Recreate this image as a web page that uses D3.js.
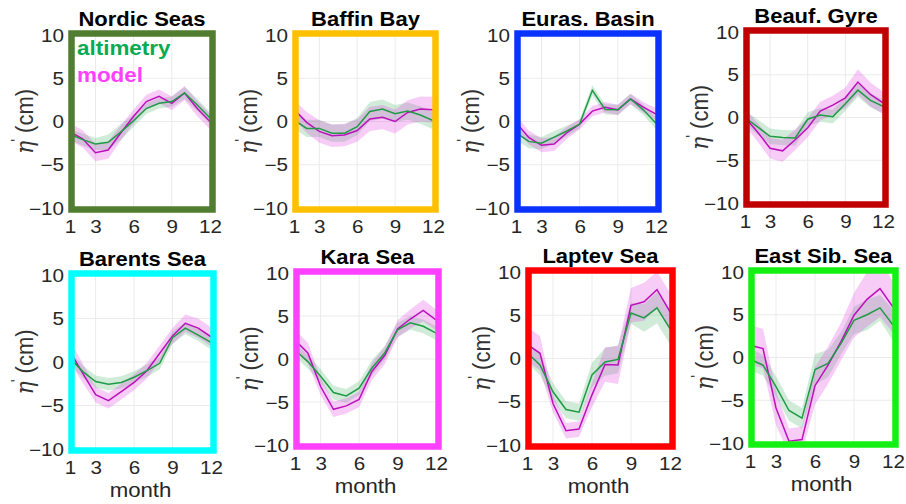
<!DOCTYPE html>
<html>
<head>
<meta charset="utf-8">
<script src="https://cdn.jsdelivr.net/npm/d3@7"></script>
<style>
  body { margin: 0; background: #fff; }
  svg { display: block; }
</style>
</head>
<body>
<svg id="chart" width="906" height="504"></svg>
<script>
// Monthly sea-level anomaly climatology, altimetry vs model, per Arctic region
const regions = ["Nordic Seas", "Baffin Bay", "Euras. Basin", "Beauf. Gyre",
                 "Barents Sea", "Kara Sea", "Laptev Sea", "East Sib. Sea"];
const months = [1, 2, 3, 4, 5, 6, 7, 8, 9, 10, 11, 12];
const xTicks = [1, 3, 6, 9, 12];
const yTicks = [-10, -5, 0, 5, 10];
const seriesLabels = ["altimetry", "model"];

const altimetryMean = [
  [-1.5, -2.1, -2.6, -2.4, -1.2, 0.1, 1.5, 2.1, 2.3, 3.3, 1.9, 0.4],
  [0.2, -0.8, -0.8, -1.35, -1.35, -0.6, 1.15, 1.45, 0.9, 1.2, 0.75, 0.1],
  [-1.3, -2.3, -2.5, -1.8, -1.1, -0.3, 3.6, 1.4, 1.35, 2.6, 1.35, -0.2],
  [0.0, -1.1, -2.2, -2.35, -2.4, -0.2, 0.3, 0.1, 1.6, 3.2, 2.0, 1.3],
  [0.45, -1.1, -2.25, -2.55, -2.35, -1.75, -1.0, -0.15, 2.8, 3.9, 3.1, 2.25],
  [1.05, -0.3, -2.0, -3.9, -4.3, -3.4, -1.05, 0.7, 3.4, 4.2, 3.8, 3.0],
  [0.7, -0.75, -3.85, -5.9, -6.2, -1.9, -0.4, -0.1, 5.25, 4.7, 5.85, 3.45],
  [-0.2, -0.9, -3.4, -6.2, -7.1, -1.4, -0.7, 1.65, 4.35, 5.0, 5.8, 3.8]
];
const altimetrySpread = [
  [0.6, 0.7, 0.7, 0.9, 0.9, 0.7, 0.6, 0.6, 0.6, 0.7, 0.7, 0.7],
  [1.0, 1.0, 1.0, 1.0, 1.0, 1.0, 1.1, 1.1, 1.0, 1.0, 1.0, 1.0],
  [0.8, 0.8, 0.7, 0.7, 0.6, 0.5, 0.6, 0.6, 0.6, 0.6, 0.6, 0.7],
  [0.8, 0.9, 0.9, 0.9, 0.9, 0.8, 0.8, 0.8, 0.8, 0.8, 0.8, 0.8],
  [0.7, 0.7, 0.7, 0.7, 0.7, 0.7, 0.7, 0.7, 0.7, 0.7, 0.7, 0.8],
  [0.8, 0.8, 0.8, 0.8, 0.8, 0.8, 0.9, 0.8, 0.8, 0.8, 0.8, 0.8],
  [1.2, 1.2, 1.0, 1.0, 1.0, 1.4, 1.6, 1.6, 1.2, 1.6, 1.8, 1.8],
  [1.3, 1.2, 1.2, 1.2, 1.2, 1.8, 1.6, 1.3, 1.6, 1.8, 1.5, 1.8]
];
const modelMean = [
  [-1.2, -2.0, -3.6, -3.3, -1.3, 0.6, 2.3, 2.9, 2.1, 3.3, 1.5, 0.0],
  [1.4, -0.1, -1.15, -1.65, -1.55, -1.05, 0.3, 0.5, 0.0, 1.05, 1.45, 1.35],
  [-0.1, -1.85, -2.75, -2.6, -1.3, -0.3, 1.2, 1.65, 1.35, 2.6, 1.65, 0.85],
  [0.0, -1.7, -3.6, -3.9, -2.6, -1.2, 0.75, 1.45, 2.3, 4.15, 2.7, 1.7],
  [1.2, -1.3, -3.75, -4.45, -3.4, -2.35, -1.0, 1.0, 3.0, 4.45, 3.9, 2.9],
  [2.2, 0.7, -3.2, -5.85, -5.45, -4.7, -1.45, 0.4, 3.5, 4.65, 5.65, 4.55],
  [1.65, 0.6, -5.2, -8.35, -8.15, -4.2, -0.7, -0.75, 6.15, 6.55, 7.95, 5.4],
  [1.45, 1.05, -5.9, -9.8, -9.6, -3.3, -0.9, 1.85, 4.95, 6.8, 8.05, 5.9]
];
const modelSpread = [
  [1.0, 1.0, 1.0, 1.0, 0.9, 0.8, 0.8, 0.8, 0.8, 0.8, 0.9, 0.9],
  [1.1, 1.2, 1.3, 1.3, 1.3, 1.3, 1.4, 1.4, 1.4, 1.4, 1.45, 1.5],
  [0.8, 0.8, 0.8, 0.8, 0.7, 0.6, 0.6, 0.6, 0.6, 0.6, 0.6, 0.7],
  [1.0, 1.1, 1.2, 1.3, 1.2, 1.1, 1.1, 1.1, 1.2, 1.5, 1.4, 1.3],
  [1.3, 1.1, 0.9, 0.9, 0.9, 0.9, 0.9, 0.9, 0.9, 1.0, 1.1, 1.1],
  [1.2, 1.2, 1.0, 0.9, 0.9, 0.9, 1.0, 1.0, 1.0, 1.1, 1.25, 1.2],
  [2.0, 2.0, 1.0, 0.9, 0.9, 1.4, 2.0, 2.2, 2.0, 2.2, 2.1, 2.2],
  [2.3, 2.3, 2.0, 1.5, 1.5, 2.2, 2.2, 2.2, 2.6, 3.2, 3.3, 3.0]
];

// ---- styling & layout ----
const frameColors = ["#507d2f", "#ffc000", "#0a32ff", "#c00000",
                     "#00ffff", "#ff40ff", "#ff0000", "#14f014"];
// plot-area boxes [left, right, top, bottom] in pixels
const boxes = [
  [70, 210, 35, 208], [294, 433, 35, 208], [516, 656, 35, 208], [745, 883, 32, 203],
  [70, 211, 275, 449], [295, 436, 273, 445], [527, 670, 272, 445], [750, 893, 272, 443]
];
const altLine = "#1f9a45", altFill = "rgba(40,170,80,0.22)";
const modLine = "#bb10bb", modFill = "rgba(225,70,225,0.27)";
const tickColor = "#262626";
const sx = 1.18; // horizontal stretch of lettering

const svg = d3.select("#chart");
const defs = svg.append("defs");

regions.forEach((name, i) => {
  const [x0, x1, y0, y1] = boxes[i];
  const x = d3.scaleLinear().domain([1, 12]).range([x0, x1]);
  const y = d3.scaleLinear().domain([-10, 10]).range([y1, y0]);
  const g = svg.append("g");

  defs.append("clipPath").attr("id", "clip" + i)
    .append("rect").attr("x", x0).attr("y", y0).attr("width", x1 - x0).attr("height", y1 - y0);

  // grid
  const grid = g.append("g").attr("stroke", "#ebebeb").attr("stroke-width", 1);
  xTicks.slice(1, -1).forEach(t => grid.append("line")
    .attr("x1", x(t)).attr("x2", x(t)).attr("y1", y0).attr("y2", y1));
  yTicks.slice(1, -1).forEach(t => grid.append("line")
    .attr("x1", x0).attr("x2", x1).attr("y1", y(t)).attr("y2", y(t)));

  const plot = g.append("g").attr("clip-path", `url(#clip${i})`);
  const rows = months.map((m, k) => ({
    m, a: altimetryMean[i][k], as: altimetrySpread[i][k],
    o: modelMean[i][k], os: modelSpread[i][k]
  }));

  plot.append("path").datum(rows).attr("fill", altFill)
    .attr("d", d3.area().x(d => x(d.m)).y0(d => y(d.a - d.as)).y1(d => y(d.a + d.as)));
  plot.append("path").datum(rows).attr("fill", modFill)
    .attr("d", d3.area().x(d => x(d.m)).y0(d => y(d.o - d.os)).y1(d => y(d.o + d.os)));
  plot.append("path").datum(rows).attr("fill", "none").attr("stroke", modLine)
    .attr("stroke-width", 1.5).attr("d", d3.line().x(d => x(d.m)).y(d => y(d.o)));
  plot.append("path").datum(rows).attr("fill", "none").attr("stroke", altLine)
    .attr("stroke-width", 1.5).attr("d", d3.line().x(d => x(d.m)).y(d => y(d.a)));

  // coloured region frame
  g.append("rect")
    .attr("x", x0 + 1.5).attr("y", y0 - 1.5)
    .attr("width", x1 - x0 + 1).attr("height", y1 - y0 + 3)
    .attr("fill", "none").attr("stroke", frameColors[i]).attr("stroke-width", 6.5);

  // axes
  const fontTicks = "'Liberation Sans', Arial, sans-serif";
  const ax = g.append("g").attr("transform", `translate(0,${y1})`)
    .call(d3.axisBottom(x).tickValues(xTicks).tickSize(0).tickFormat(d3.format("d")));
  ax.select(".domain").remove();
  ax.selectAll("text").attr("y", 0).attr("dy", 0)
    .attr("transform", `translate(0,24.5) scale(${sx},1)`)
    .attr("fill", tickColor).attr("font-size", 17.5).attr("font-family", fontTicks);

  const ay = g.append("g").attr("transform", `translate(${x0},0)`)
    .call(d3.axisLeft(y).tickValues(yTicks).tickSize(0).tickFormat(d3.format("d")));
  ay.select(".domain").remove();
  ay.selectAll("text").attr("x", 0).attr("dy", "0.35em")
    .attr("transform", `translate(-6,0) scale(${sx},1)`)
    .attr("fill", tickColor).attr("font-size", 17.5).attr("font-family", fontTicks);

  // y label
  const yl = g.append("text")
    .attr("transform", `translate(${x0 - 37},${(y0 + y1) / 2}) scale(1.1,1) rotate(-90)`)
    .attr("text-anchor", "middle").attr("fill", "#333")
    .attr("font-size", 22).attr("font-family", fontTicks);
  yl.append("tspan").attr("font-style", "italic")
    .attr("font-family", "'DejaVu Serif', serif").attr("font-size", 22).text("η");
  yl.append("tspan").attr("dy", -9).attr("dx", -1).attr("font-size", 15).text("'");
  yl.append("tspan").attr("dy", 9).text(" (cm)");

  // title
  g.append("text")
    .attr("transform", `translate(${(x0 + x1) / 2 + 2},${y0 - 9.5}) scale(1.1,1)`)
    .attr("text-anchor", "middle").attr("font-weight", "bold")
    .attr("font-size", 20).attr("font-family", fontTicks).attr("fill", "#000")
    .text(name);

  // x label on bottom row
  if (i >= 4) {
    g.append("text")
      .attr("transform", `translate(${(x0 + x1) / 2},${y1 + 48}) scale(1.14,1)`)
      .attr("text-anchor", "middle").attr("fill", tickColor)
      .attr("font-size", 19.5).attr("font-family", fontTicks).text("month");
  }

  // legend in the first panel
  if (i === 0) {
    const legColors = ["#0aaa50", "#ff40ff"];
    seriesLabels.forEach((lab, k) => {
      g.append("text")
        .attr("transform", `translate(${x0 + 7},${y0 + 20 + k * 27}) scale(1.15,1)`)
        .attr("font-weight", "bold").attr("font-size", 19.5)
        .attr("font-family", fontTicks).attr("fill", legColors[k]).text(lab);
    });
  }
});
</script>
</body>
</html>
